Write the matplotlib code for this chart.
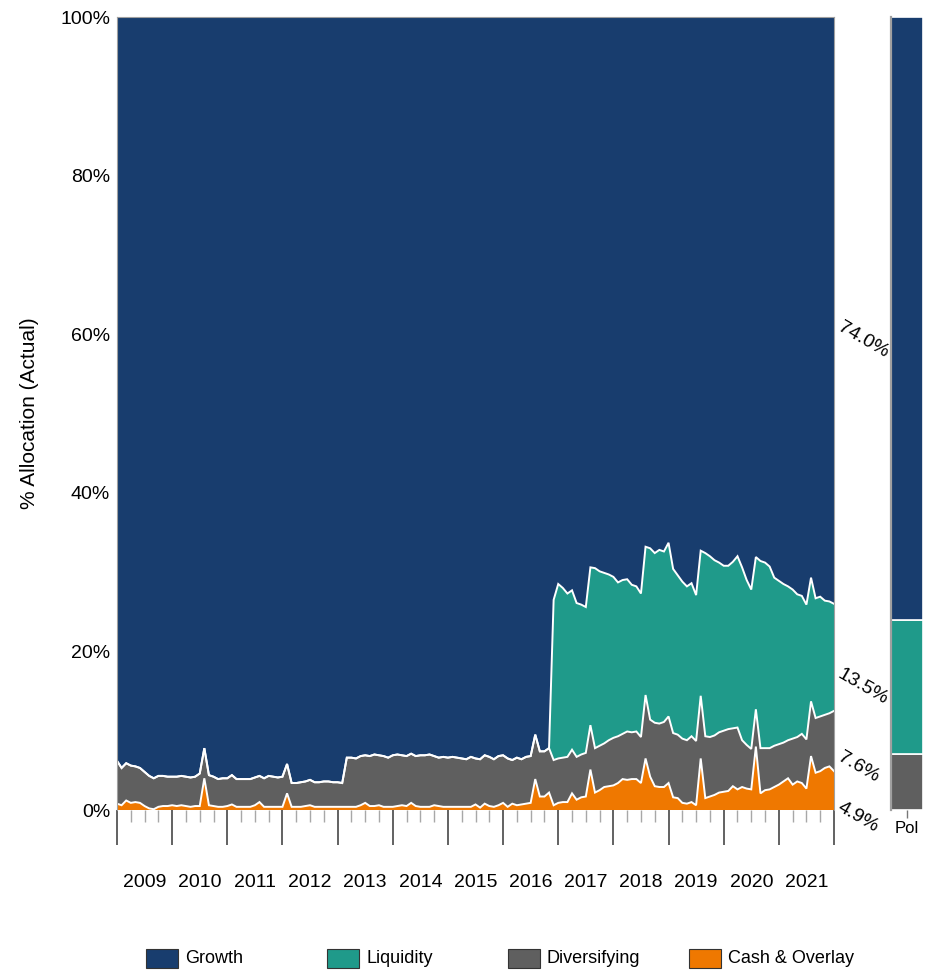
import numpy as np
import matplotlib
matplotlib.use("Agg")
import matplotlib.pyplot as plt
import matplotlib.transforms as mtransforms
from matplotlib.patches import Rectangle
from matplotlib import font_manager

# ---------------- data (monthly, % allocation) ----------------
series_names = ["Growth", "Liquidity", "Diversifying", "Cash & Overlay"]
years = ["2009", "2010", "2011", "2012", "2013", "2014", "2015",
         "2016", "2017", "2018", "2019", "2020", "2021"]

cash = [0.8, 0.6, 1.2, 0.9, 1.0, 0.9, 0.5, 0.2, 0.1, 0.4,
        0.5, 0.5, 0.6, 0.5, 0.6, 0.5, 0.4, 0.5, 0.5, 4.0,
        0.6, 0.5, 0.4, 0.4, 0.5, 0.7, 0.4, 0.4, 0.4, 0.4,
        0.6, 1.0, 0.4, 0.4, 0.4, 0.4, 0.4, 2.1, 0.4, 0.4,
        0.4, 0.5, 0.6, 0.4, 0.4, 0.4, 0.4, 0.4, 0.4, 0.4,
        0.4, 0.4, 0.4, 0.6, 0.9, 0.5, 0.5, 0.6, 0.4, 0.4,
        0.4, 0.5, 0.6, 0.5, 0.9, 0.5, 0.4, 0.4, 0.4, 0.6,
        0.5, 0.4, 0.4, 0.4, 0.4, 0.4, 0.4, 0.4, 0.7, 0.3,
        0.8, 0.5, 0.4, 0.6, 0.9, 0.4, 0.8, 0.6, 0.7, 0.8,
        0.9, 3.9, 1.7, 1.7, 2.2, 0.6, 0.9, 1.0, 1.0, 2.1,
        1.3, 1.6, 1.7, 5.1, 2.2, 2.5, 2.9, 3.0, 3.1, 3.4,
        3.9, 3.8, 3.9, 3.9, 3.4, 6.5, 4.2, 3.0, 2.9, 2.9,
        3.4, 1.6, 1.5, 0.9, 0.8, 1.0, 0.6, 6.5, 1.5, 1.7,
        1.9, 2.2, 2.3, 2.4, 3.0, 2.6, 2.9, 2.7, 2.6, 8.0,
        2.1, 2.5, 2.6, 2.9, 3.2, 3.6, 4.0, 3.2, 3.6, 3.4,
        2.7, 6.8, 4.7, 4.9, 5.3, 5.5, 4.9]

diversifying = [5.4, 4.7, 4.7, 4.7, 4.5, 4.4, 4.3, 4.1, 3.9, 3.9,
                3.8, 3.7, 3.6, 3.7, 3.7, 3.7, 3.7, 3.7, 4.1, 3.8,
                3.8, 3.7, 3.5, 3.6, 3.5, 3.7, 3.5, 3.5, 3.5, 3.5,
                3.5, 3.3, 3.6, 3.9, 3.8, 3.7, 3.8, 3.7, 3.0, 3.0,
                3.1, 3.1, 3.2, 3.1, 3.1, 3.2, 3.2, 3.1, 3.1, 3.0,
                6.2, 6.2, 6.1, 6.2, 6.0, 6.3, 6.5, 6.3, 6.4, 6.2,
                6.5, 6.5, 6.3, 6.3, 6.2, 6.3, 6.5, 6.5, 6.6, 6.2,
                6.1, 6.3, 6.2, 6.3, 6.2, 6.1, 6.0, 6.3, 5.8, 6.1,
                6.1, 6.2, 6.0, 6.2, 6.0, 6.1, 5.5, 6.0, 5.7, 5.9,
                5.9, 5.6, 5.7, 5.7, 5.6, 5.7, 5.6, 5.6, 5.7, 5.5,
                5.4, 5.4, 5.5, 5.6, 5.6, 5.6, 5.5, 5.8, 6.0, 5.9,
                5.7, 6.1, 5.9, 6.0, 5.8, 8.0, 7.2, 8.0, 8.0, 8.2,
                8.4, 8.1, 8.0, 8.1, 8.0, 8.3, 8.1, 7.9, 7.8, 7.5,
                7.5, 7.6, 7.7, 7.8, 7.3, 7.8, 5.9, 5.5, 5.1, 4.7,
                5.7, 5.3, 5.2, 5.2, 5.1, 4.9, 4.8, 5.8, 5.6, 6.2,
                6.2, 6.9, 6.9, 6.9, 6.7, 6.7, 7.6]

liquidity = [0.0] * 95 + [
    20.2, 22.0, 21.4, 20.6, 20.1,
    19.4, 18.9, 18.4, 19.9, 22.7, 22.0, 21.5, 20.9, 20.3, 19.4,
    19.4, 19.2, 18.6, 18.3, 18.1, 18.7, 21.6, 21.4, 21.9, 21.5,
    21.9, 20.7, 20.1, 19.8, 19.4, 19.3, 18.4, 18.3, 23.1, 22.8,
    22.1, 21.4, 20.8, 20.6, 21.0, 21.6, 21.8, 20.8, 20.1, 19.2,
    23.6, 23.4, 22.9, 21.2, 20.6, 20.0, 19.4, 18.8, 18.0, 17.4,
    17.0, 15.6, 15.1, 15.1, 14.4, 14.1, 13.5]

growth = [93.8, 94.7, 94.1, 94.4, 94.5, 94.7, 95.2, 95.7, 96.0, 95.7,
          95.7, 95.8, 95.8, 95.8, 95.7, 95.8, 95.9, 95.8, 95.4, 92.2,
          95.6, 95.8, 96.1, 96.0, 96.0, 95.6, 96.1, 96.1, 96.1, 96.1,
          95.9, 95.7, 96.0, 95.7, 95.8, 95.9, 95.8, 94.2, 96.6, 96.6,
          96.5, 96.4, 96.2, 96.5, 96.5, 96.4, 96.4, 96.5, 96.5, 96.6,
          93.4, 93.4, 93.5, 93.2, 93.1, 93.2, 93.0, 93.1, 93.2, 93.4,
          93.1, 93.0, 93.1, 93.2, 92.9, 93.2, 93.1, 93.1, 93.0, 93.2,
          93.4, 93.3, 93.4, 93.3, 93.4, 93.5, 93.6, 93.3, 93.5, 93.6,
          93.1, 93.3, 93.6, 93.2, 93.1, 93.5, 93.7, 93.4, 93.6, 93.3,
          93.2, 90.5, 92.6, 92.6, 92.2, 73.5, 71.5, 72.0, 72.7, 72.3,
          73.9, 74.1, 74.4, 69.4, 69.5, 69.9, 70.1, 70.3, 70.6, 71.3,
          71.0, 70.9, 71.6, 71.8, 72.7, 66.8, 67.0, 67.6, 67.2, 67.4,
          66.3, 69.6, 70.4, 71.2, 71.8, 71.4, 72.9, 67.3, 67.6, 68.0,
          68.5, 68.8, 69.2, 69.2, 68.7, 68.0, 69.4, 71.0, 72.2, 68.1,
          68.6, 68.8, 69.3, 70.7, 71.1, 71.5, 71.8, 72.2, 72.8, 73.0,
          74.1, 70.7, 73.3, 73.1, 73.6, 73.7, 74.0]

# policy allocation (stacked bottom -> top: cash, diversifying, liquidity, growth)
policy_label = ["Pol"]
policy_cash = 0.0
policy_diversifying = 7.0
policy_liquidity = 17.0
policy_growth = 76.0

# ---------------- styling ----------------
names = {f.name for f in font_manager.fontManager.ttflist}
base_font = "Liberation Sans" if "Liberation Sans" in names else "DejaVu Sans"
plt.rcParams["font.family"] = [base_font, "DejaVu Sans"]

C_GROWTH = "#183D6E"
C_LIQ = "#1F9A8A"
C_DIV = "#5F5F5F"
C_CASH = "#EF7800"

W, H = 936, 971
fig = plt.figure(figsize=(W / 100, H / 100), dpi=100)

ax = fig.add_axes([117 / W, 1 - 810 / H, (834 - 117) / W, (810 - 17) / H])
axp = fig.add_axes([891 / W, 1 - 810 / H, (923 - 891) / W, (810 - 17) / H])

x = np.arange(len(cash))
ax.stackplot(x, cash, diversifying, liquidity, growth,
             colors=[C_CASH, C_DIV, C_LIQ, C_GROWTH], linewidth=0, antialiased=True)

stack = np.cumsum(np.vstack([cash, diversifying, liquidity]), axis=0)
for row in stack:
    ax.plot(x, row, color="white", lw=1.4, solid_joinstyle="miter")

ax.set_xlim(0, len(cash) - 1)
ax.set_ylim(0, 100)

ax.set_yticks(np.arange(0, 101, 20))
ax.set_yticklabels([f"{v}%" for v in range(0, 101, 20)])
ax.tick_params(axis="y", length=0, pad=5, labelsize=14)

major = np.arange(0, len(cash), 12)
minor = [m for m in range(0, len(cash), 3) if m % 12 != 0]
ax.set_xticks(major)
ax.set_xticklabels([""] * len(major))
ax.set_xticks(minor, minor=True)
ax.tick_params(axis="x", which="major", length=25, width=1.3, color="#555555", direction="out")
ax.tick_params(axis="x", which="minor", length=8.5, width=1.0, color="#A8A8A8", direction="out")

trans_xlab = mtransforms.blended_transform_factory(ax.transData, ax.transAxes)
for k, yr in enumerate(years):
    ax.text(6 + 12 * k, -0.092, yr, transform=trans_xlab, ha="center", va="center", fontsize=14)

for side in ["top", "right", "left"]:
    ax.spines[side].set_color("#A0A0A0")
    ax.spines[side].set_linewidth(0.8)
ax.spines["bottom"].set_visible(False)

fig.text(30 / W, 1 - 413 / H, "% Allocation (Actual)", rotation=90,
         ha="center", va="center", fontsize=15)

# end-of-period labels
last_vals = [cash[-1], diversifying[-1], liquidity[-1], growth[-1]]
trans_r = mtransforms.blended_transform_factory(ax.transAxes, ax.transData)
trans_r = trans_r + mtransforms.ScaledTranslation(0, -8 / 100, fig.dpi_scale_trans)
bottom = 0.0
for v in last_vals:
    mid = bottom + v / 2
    ax.text(1.013, mid, f"{v:.1f}%", transform=trans_r, rotation=-30,
            rotation_mode="anchor", ha="left", va="top", fontsize=14, clip_on=False)
    bottom += v

# policy bar
pol_vals = [policy_cash, policy_diversifying, policy_liquidity, policy_growth]
pol_cols = [C_CASH, C_DIV, C_LIQ, C_GROWTH]
b = 0.0
for v, c in zip(pol_vals, pol_cols):
    if v > 0:
        axp.bar(0, v, bottom=b, width=1.0, color=c, edgecolor="white", linewidth=1.2, zorder=1)
    b += v
axp.set_xlim(-0.5, 0.5)
axp.set_ylim(0, 100)
axp.set_yticks([])
axp.set_xticks([0])
axp.set_xticklabels(policy_label)
axp.tick_params(axis="x", length=6, width=1, color="#777777", labelsize=12, pad=2)
for side in ["top", "right", "bottom"]:
    axp.spines[side].set_visible(False)
axp.spines["left"].set_color("#A0A0A0")
axp.spines["left"].set_linewidth(1.6)
axp.spines["left"].set_zorder(3)

# legend (manual, fixed-width columns)
lax = fig.add_axes([0, 0, 1, 1], zorder=-1)
lax.set_xlim(0, W)
lax.set_ylim(H, 0)
lax.axis("off")
leg_cols = [C_GROWTH, C_LIQ, C_DIV, C_CASH]
for i, (nm, c) in enumerate(zip(series_names, leg_cols)):
    x0 = 146 + 181 * i
    lax.add_patch(Rectangle((x0, 949), 32, 19, facecolor=c, edgecolor="#333333", linewidth=0.8))
    lax.text(x0 + 39, 958.5, nm, ha="left", va="center", fontsize=13)

fig.savefig("out.png", dpi=100)
